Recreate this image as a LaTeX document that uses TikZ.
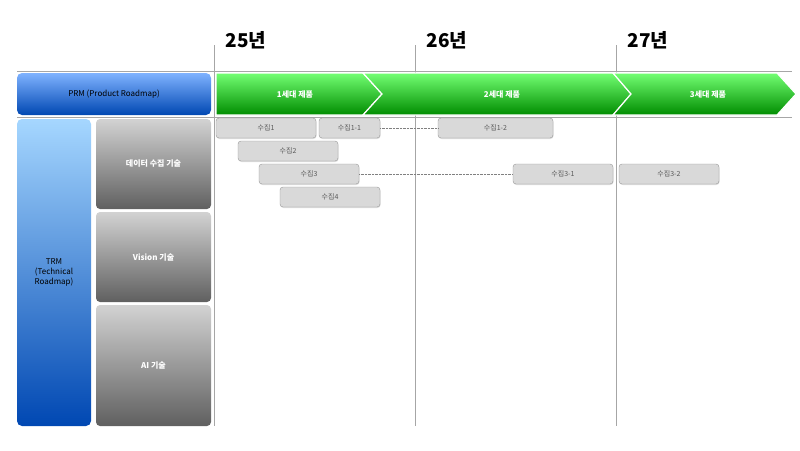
\documentclass[tikz,border=0pt]{standalone}
\usepackage{fontspec}
\setmainfont{Noto Sans CJK KR}
\usetikzlibrary{shadows}
\begin{document}
\begin{tikzpicture}[x=1pt,y=-1pt,
  task/.style={draw=gray!80,fill=gray!30,rounded corners=3pt,font=\fontsize{7}{8}\selectfont,text=black!65,drop shadow={opacity=0.25,shadow xshift=0.5pt,shadow yshift=-1pt}},
  grid/.style={draw=gray!70,line width=0.8pt},
  year/.style={font=\fontsize{19}{20}\selectfont\bfseries,anchor=west},
  chev/.style={top color=green!55!white,bottom color=green!55!black,draw=white,line width=1.2pt},
  ctext/.style={text=white,font=\fontsize{8}{9}\selectfont\bfseries},
  gbox/.style={rounded corners=4pt,top color=gray!35,bottom color=gray!75!black,text=white,font=\fontsize{8}{9}\selectfont\bfseries}]
\useasboundingbox (0,0) rectangle (800,450);
% grid
\draw[grid] (17,71) -- (792,71);
\draw[grid] (17,117) -- (792,117);
\foreach \x in {214,415,616} \draw[grid] (\x,45) -- (\x,426);
\node[year] (y25) at (222,40) {25년};
\node[year] (y26) at (423,40) {26년};
\node[year] (y27) at (624,40) {27년};
% PRM
\node[rounded corners=5pt,top color=cyan!40!blue!50!white,bottom color=blue!60!cyan!70!black,minimum width=194pt,minimum height=42pt,inner sep=0pt,font=\fontsize{8}{9}\selectfont] (prm) at (114,94) {PRM (Product Roadmap)};
% chevrons
\draw[chev] (216,73) -- (363,73) -- (382,94) -- (363,115) -- (216,115) -- cycle;
\draw[chev] (363,73) -- (613,73) -- (631,94) -- (613,115) -- (363,115) -- (382,94) -- cycle;
\draw[chev] (613,73) -- (777,73) -- (796,94) -- (777,115) -- (613,115) -- (631,94) -- cycle;
\node[ctext] (c1) at (295,94) {1세대 제품};
\node[ctext] (c2) at (502,94) {2세대 제품};
\node[ctext] (c3) at (708,94) {3세대 제품};
% TRM
\node[rounded corners=5pt,top color=cyan!55!blue!35!white,bottom color=blue!60!cyan!70!black,minimum width=74pt,minimum height=307pt,inner sep=0pt,align=center,font=\fontsize{8}{10}\selectfont] (trm) at (54,272.5) {TRM\\(Technical\\Roadmap)};
\node[gbox,minimum width=115pt,minimum height=90pt] (g1) at (153.5,164) {데이터 수집 기술};
\node[gbox,minimum width=115pt,minimum height=90pt] (g2) at (153.5,257) {Vision 기술};
\node[gbox,minimum width=115pt,minimum height=121pt] (g3) at (153.5,365.5) {AI 기술};
% tasks
\node[task,minimum width=100pt,minimum height=20pt] (t1) at (266,128) {수집1};
\node[task,minimum width=61pt,minimum height=20pt] (t11) at (349.5,128) {수집1-1};
\node[task,minimum width=115pt,minimum height=20pt] (t12) at (495.5,128) {수집1-2};
\node[task,minimum width=100pt,minimum height=20pt] (t2) at (288,151) {수집2};
\node[task,minimum width=100pt,minimum height=20pt] (t3) at (309,174) {수집3};
\node[task,minimum width=100pt,minimum height=20pt] (t31) at (563,174) {수집3-1};
\node[task,minimum width=100pt,minimum height=20pt] (t32) at (669,174) {수집3-2};
\node[task,minimum width=100pt,minimum height=20pt] (t4) at (330,197) {수집4};
\draw[gray,densely dotted] (t11) -- (t12);
\draw[gray,densely dotted] (t3) -- (t31);
\end{tikzpicture}
\end{document}
